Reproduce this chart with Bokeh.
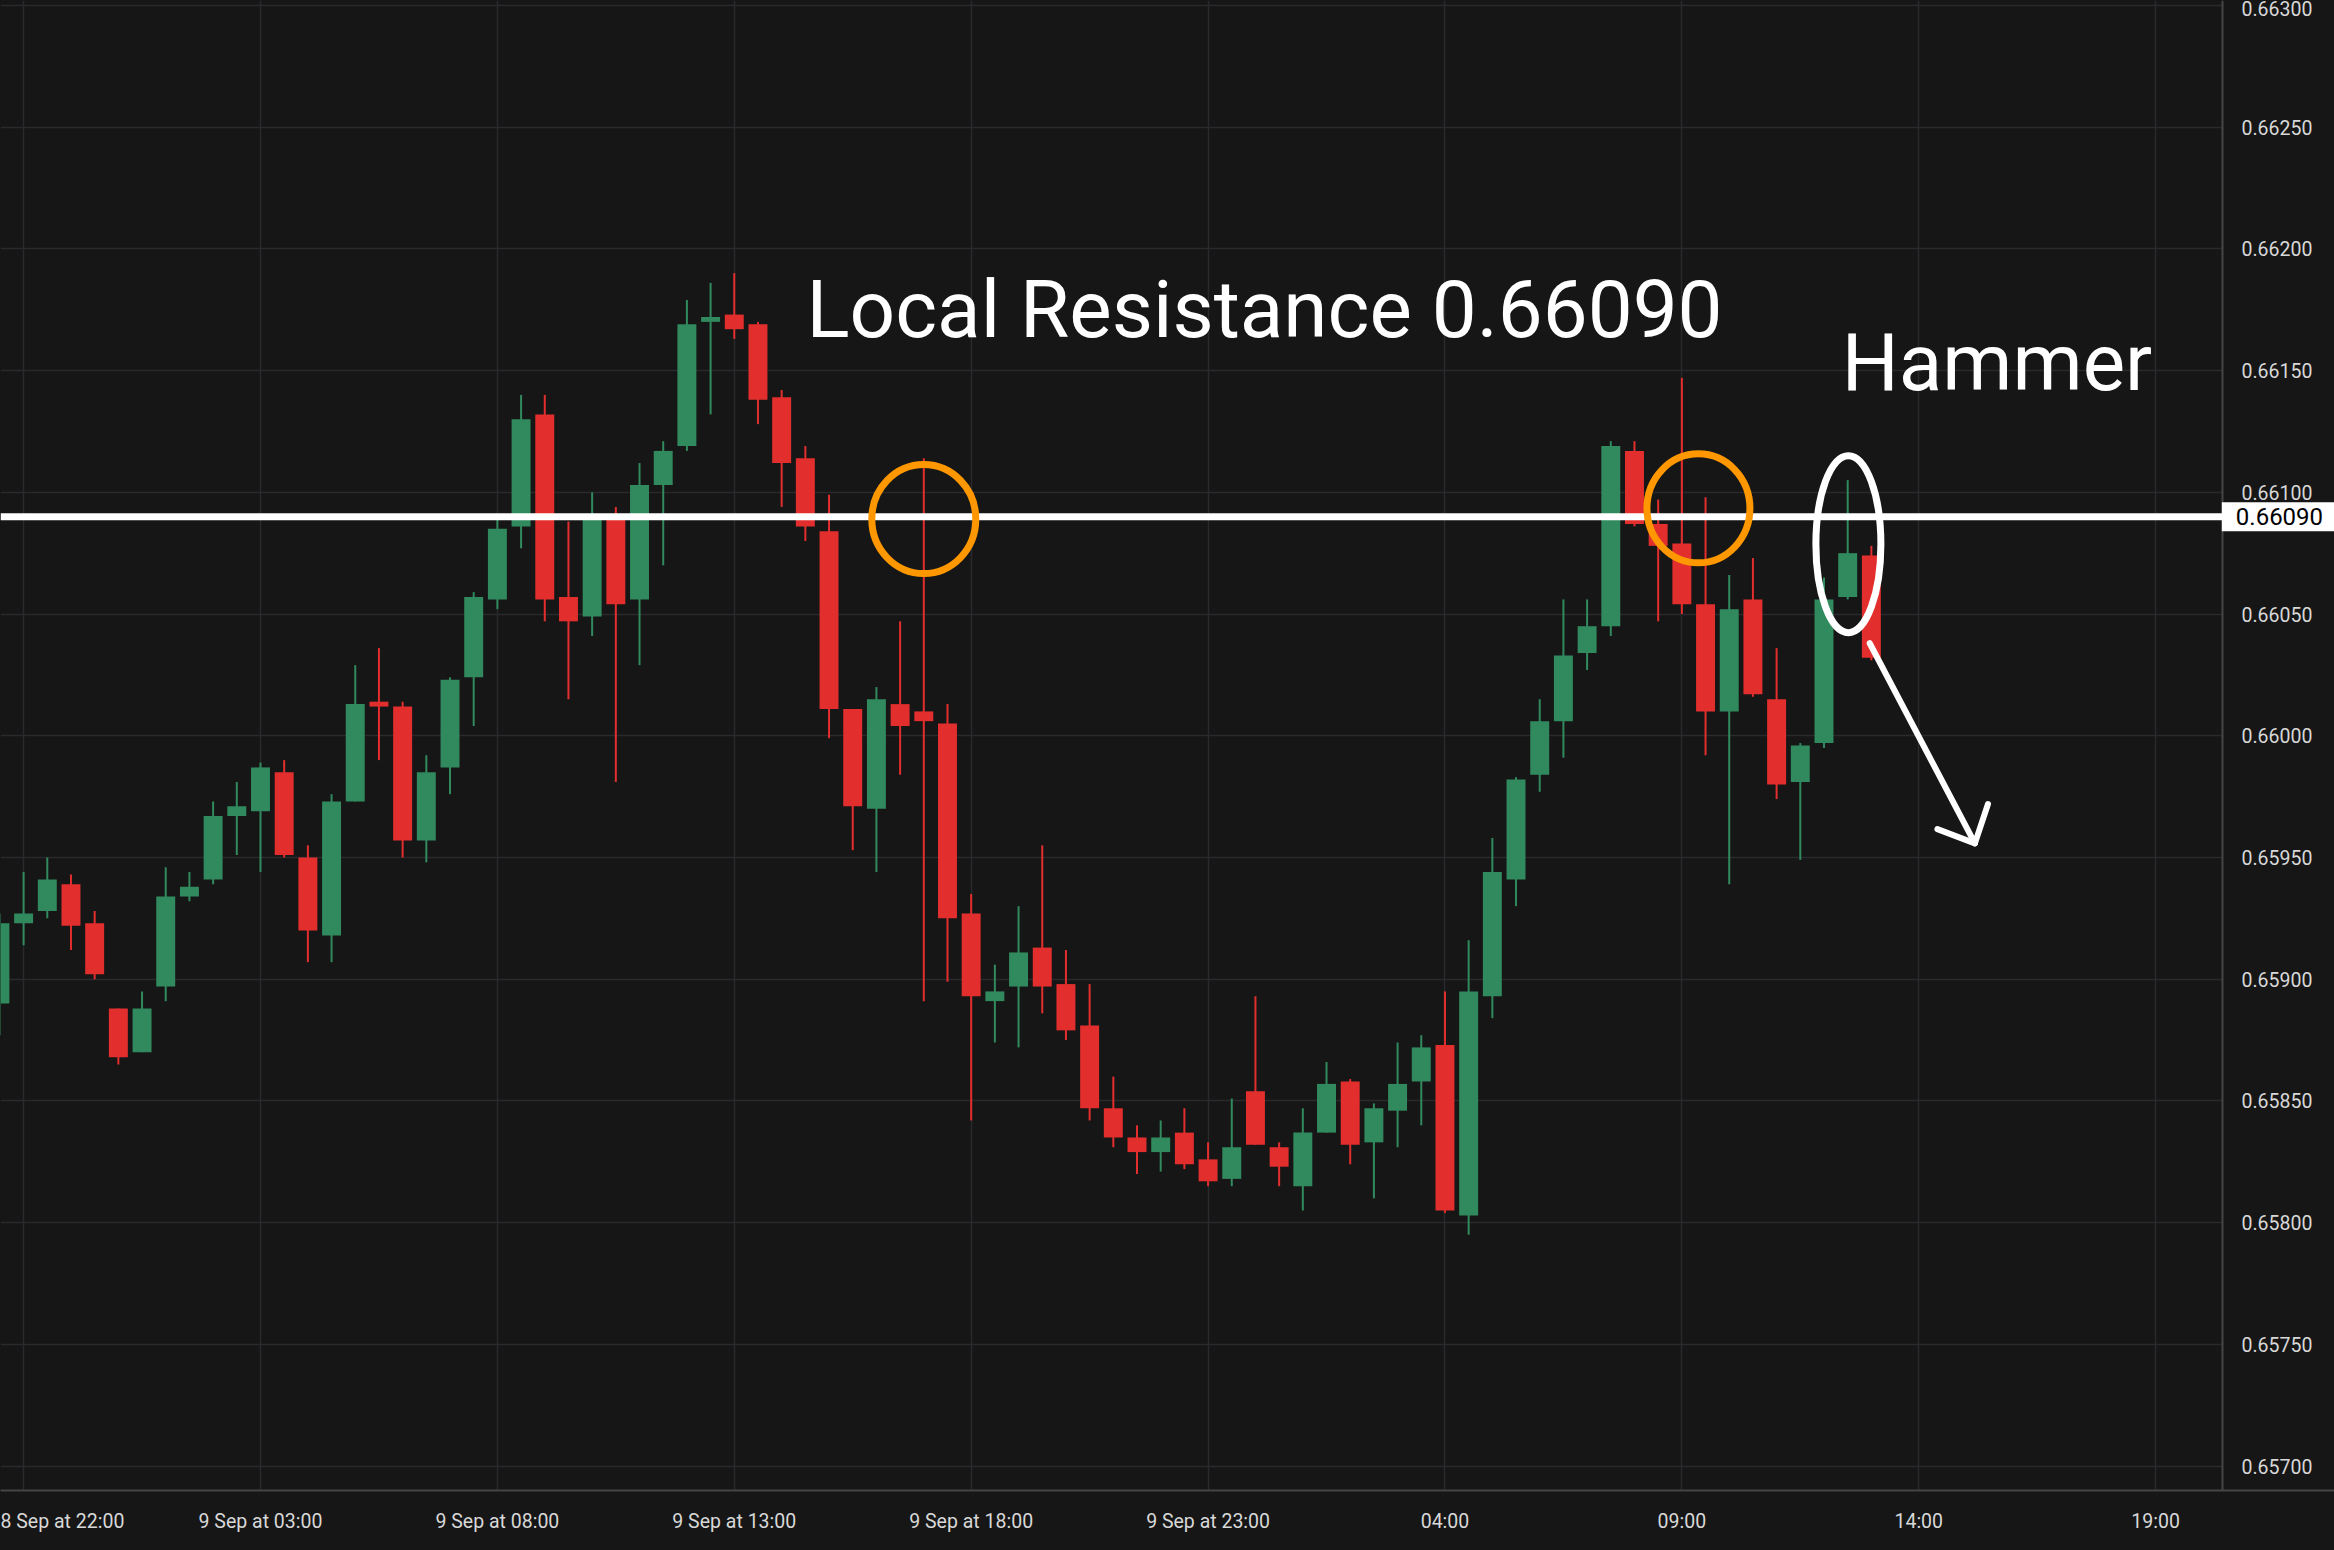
from bokeh.plotting import figure
from bokeh.models import (Span, Label, FixedTicker, PrintfTickFormatter, ColumnDataSource,
                          BoxAnnotation)
from bokeh.core.properties import value
from bokeh.embed import file_html
from bokeh.resources import INLINE

# 30-minute candles, 8 Sep 21:30 -> 10 Sep 13:00 (index 0 = 8 Sep 21:30)
opens = [0.65890, 0.65923, 0.65928, 0.65939, 0.65923, 0.65888, 0.65870, 0.65897, 0.65934, 0.65941,
         0.65967, 0.65969, 0.65985, 0.65950, 0.65918, 0.65973, 0.66014, 0.66012, 0.65957, 0.65987,
         0.66024, 0.66056, 0.66086, 0.66132, 0.66057, 0.66049, 0.66089, 0.66056, 0.66103, 0.66119,
         0.66170, 0.66173, 0.66169, 0.66139, 0.66114, 0.66084, 0.66011, 0.65970, 0.66013, 0.66010,
         0.66005, 0.65927, 0.65891, 0.65897, 0.65913, 0.65898, 0.65881, 0.65847, 0.65835, 0.65829,
         0.65837, 0.65826, 0.65818, 0.65854, 0.65831, 0.65815, 0.65837, 0.65858, 0.65833, 0.65846,
         0.65858, 0.65873, 0.65803, 0.65893, 0.65941, 0.65984, 0.66006, 0.66034, 0.66045, 0.66117,
         0.66087, 0.66079, 0.66054, 0.66010, 0.66056, 0.66015, 0.65981, 0.65997, 0.66057, 0.66074]

highs = [0.65927, 0.65944, 0.65950, 0.65943, 0.65928, 0.65888, 0.65895, 0.65946, 0.65944, 0.65973,
         0.65981, 0.65989, 0.65990, 0.65955, 0.65976, 0.66029, 0.66036, 0.66014, 0.65992, 0.66024,
         0.66059, 0.66089, 0.66140, 0.66140, 0.66088, 0.66100, 0.66094, 0.66112, 0.66121, 0.66179,
         0.66186, 0.66190, 0.66170, 0.66142, 0.66119, 0.66099, 0.66011, 0.66020, 0.66047, 0.66114,
         0.66013, 0.65935, 0.65906, 0.65930, 0.65955, 0.65912, 0.65898, 0.65860, 0.65840, 0.65842,
         0.65847, 0.65833, 0.65851, 0.65893, 0.65833, 0.65847, 0.65866, 0.65859, 0.65849, 0.65874,
         0.65877, 0.65895, 0.65916, 0.65958, 0.65983, 0.66015, 0.66056, 0.66056, 0.66121, 0.66121,
         0.66097, 0.66147, 0.66098, 0.66066, 0.66073, 0.66036, 0.65997, 0.66065, 0.66105, 0.66078]

lows = [0.65877, 0.65914, 0.65925, 0.65912, 0.65900, 0.65865, 0.65870, 0.65891, 0.65932, 0.65939,
        0.65951, 0.65944, 0.65950, 0.65907, 0.65907, 0.65973, 0.65990, 0.65950, 0.65948, 0.65976,
        0.66004, 0.66052, 0.66077, 0.66047, 0.66015, 0.66041, 0.65981, 0.66029, 0.66070, 0.66117,
        0.66132, 0.66163, 0.66128, 0.66094, 0.66080, 0.65999, 0.65953, 0.65944, 0.65984, 0.65891,
        0.65899, 0.65842, 0.65874, 0.65872, 0.65886, 0.65875, 0.65842, 0.65831, 0.65820, 0.65821,
        0.65822, 0.65815, 0.65815, 0.65832, 0.65815, 0.65805, 0.65837, 0.65824, 0.65810, 0.65831,
        0.65840, 0.65804, 0.65795, 0.65884, 0.65930, 0.65977, 0.65991, 0.66027, 0.66041, 0.66086,
        0.66047, 0.66050, 0.65992, 0.65939, 0.66016, 0.65974, 0.65949, 0.65995, 0.66056, 0.66031]

closes = [0.65923, 0.65927, 0.65941, 0.65922, 0.65902, 0.65868, 0.65888, 0.65934, 0.65938, 0.65967,
          0.65971, 0.65987, 0.65951, 0.65920, 0.65973, 0.66013, 0.66012, 0.65957, 0.65985, 0.66023,
          0.66057, 0.66085, 0.66130, 0.66056, 0.66047, 0.66089, 0.66054, 0.66103, 0.66117, 0.66169,
          0.66172, 0.66167, 0.66138, 0.66112, 0.66086, 0.66011, 0.65971, 0.66015, 0.66004, 0.66006,
          0.65925, 0.65893, 0.65895, 0.65911, 0.65897, 0.65879, 0.65847, 0.65835, 0.65829, 0.65835,
          0.65824, 0.65817, 0.65831, 0.65832, 0.65823, 0.65837, 0.65857, 0.65832, 0.65847, 0.65857,
          0.65872, 0.65805, 0.65895, 0.65944, 0.65982, 0.66006, 0.66033, 0.66045, 0.66119, 0.66087,
          0.66078, 0.66054, 0.66010, 0.66052, 0.66017, 0.65980, 0.65996, 0.66056, 0.66075, 0.66032]

x_tick_pos = [1, 11, 21, 31, 41, 51, 61, 71, 81, 91]
x_tick_labels = ["8 Sep at 22:00", "9 Sep at 03:00", "9 Sep at 08:00", "9 Sep at 13:00",
                 "9 Sep at 18:00", "9 Sep at 23:00", "04:00", "09:00", "14:00", "19:00"]
y_ticks = [0.65700, 0.65750, 0.65800, 0.65850, 0.65900, 0.65950, 0.66000,
           0.66050, 0.66100, 0.66150, 0.66200, 0.66250, 0.66300]

resistance = 0.66090
title_text = "Local Resistance 0.66090"
hammer_text = "Hammer"
price_tag = "0.66090"

BG = "#161616"
UP = "#318a5e"
DOWN = "#e32e2e"
GRID = "#2a2a2e"
AXIS = "#454545"
LABEL = "#d8d8d8"
ORANGE = "#ff9800"

# frame covers the full width; the price axis is drawn at a fixed location inside it
X0, X1 = 0.0249, 98.55
AXIS_X = 93.82
Y0, Y1 = 0.65690, 0.66302
FRAME_W, FRAME_H = 2334, 1490
PX_X = FRAME_W / (X1 - X0)          # pixels per candle
PX_Y = FRAME_H / (Y1 - Y0)          # pixels per price unit

p = figure(width=2334, height=1550, x_range=(X0, X1), y_range=(Y0, Y1),
           output_backend="svg", toolbar_location=None, y_axis_location="right",
           min_border_left=0, min_border_top=0, min_border_right=0, min_border_bottom=60,
           background_fill_color=BG, border_fill_color=BG, outline_line_color=None)

xticker = FixedTicker(ticks=x_tick_pos)
yticker = FixedTicker(ticks=y_ticks)
p.xaxis.ticker = xticker
p.xgrid.ticker = xticker
p.yaxis.ticker = yticker
p.ygrid.ticker = yticker
p.xaxis.major_label_overrides = {k: v for k, v in zip(x_tick_pos, x_tick_labels)}
p.yaxis.formatter = PrintfTickFormatter(format="%.5f")
p.yaxis.fixed_location = AXIS_X

for ax in (p.xaxis, p.yaxis):
    ax.axis_line_color = AXIS
    ax.axis_line_width = 2
    ax.major_tick_line_color = None
    ax.minor_tick_line_color = None
    ax.major_tick_out = 0
    ax.major_tick_in = 0
    ax.major_label_text_color = LABEL
    ax.major_label_text_font = "Roboto"
    ax.major_label_text_font_size = "19.5px"
p.xaxis.major_label_standoff = 19
p.yaxis.major_label_standoff = 19

p.grid.grid_line_color = GRID
p.grid.grid_line_width = 1.5

# price-scale area: hides the grid to the right of the axis line
p.add_layout(BoxAnnotation(left=AXIS_X, fill_color=BG, fill_alpha=1.0, line_color=None,
                           level="glyph"))

idx = list(range(len(opens)))
colors = [UP if c >= o else DOWN for o, c in zip(opens, closes)]
src = ColumnDataSource(dict(
    x=idx,
    top=[max(o, c) for o, c in zip(opens, closes)],
    bottom=[min(o, c) for o, c in zip(opens, closes)],
    high=highs, low=lows, color=colors))

p.segment(x0="x", y0="high", x1="x", y1="low", line_color="color", line_width=2, source=src)
p.vbar(x="x", width=0.8, top="top", bottom="bottom", fill_color="color", line_color=None, source=src)

# resistance line
p.add_layout(Span(location=resistance, dimension="width", line_color="white", line_width=7))

# annotation ellipses (orange rejections, white hammer)
p.ellipse(x=[39.0, 71.7], y=[0.66089, 0.660934], width=[104 / PX_X, 103 / PX_X],
          height=[109 / PX_Y, 109 / PX_Y], fill_color=None, line_color=ORANGE, line_width=7,
          level="overlay")
p.ellipse(x=[78.03], y=[0.660787], width=[65 / PX_X], height=[177 / PX_Y],
          fill_color=None, line_color="white", line_width=7, level="overlay")

# arrow
ax0, ay0 = 78.93, 0.660380
tx, ty = 83.37, 0.659558
arm1 = (tx - 37.5 / PX_X, ty + 14.3 / PX_Y)
arm2 = (tx + 13.1 / PX_X, ty + 39.3 / PX_Y)
p.multi_line(xs=[[ax0, tx], [arm1[0], tx, arm2[0]]], ys=[[ay0, ty], [arm1[1], ty, arm2[1]]],
             line_color="white", line_width=6, line_cap="round", line_join="round", level="overlay")

# texts
p.text(x=[34.05], y=[0.661747], text=[title_text], text_color="white",
       text_font=value("Roboto"), text_font_size=value("80px"),
       text_baseline="alphabetic", text_align="left", level="overlay")
p.text(x=[77.75], y=[0.661533], text=[hammer_text], text_color="white",
       text_font=value("Roboto"), text_font_size=value("80px"),
       text_baseline="alphabetic", text_align="left", level="overlay")

# price tag on the axis (centred in the price-scale column)
p.add_layout(Label(x=AXIS_X, y=resistance, x_offset=57, text=price_tag, text_color="black",
                   text_font="Roboto", text_font_size="24px", text_baseline="middle",
                   text_align="center", background_fill_color="white",
                   padding=dict(left=14, right=14, top=6, bottom=6)))

html = file_html(p, INLINE)
html = html.replace("<head>", "<head><style>html,body{background:#161616;}</style>", 1)
open("out.html", "w").write(html)
